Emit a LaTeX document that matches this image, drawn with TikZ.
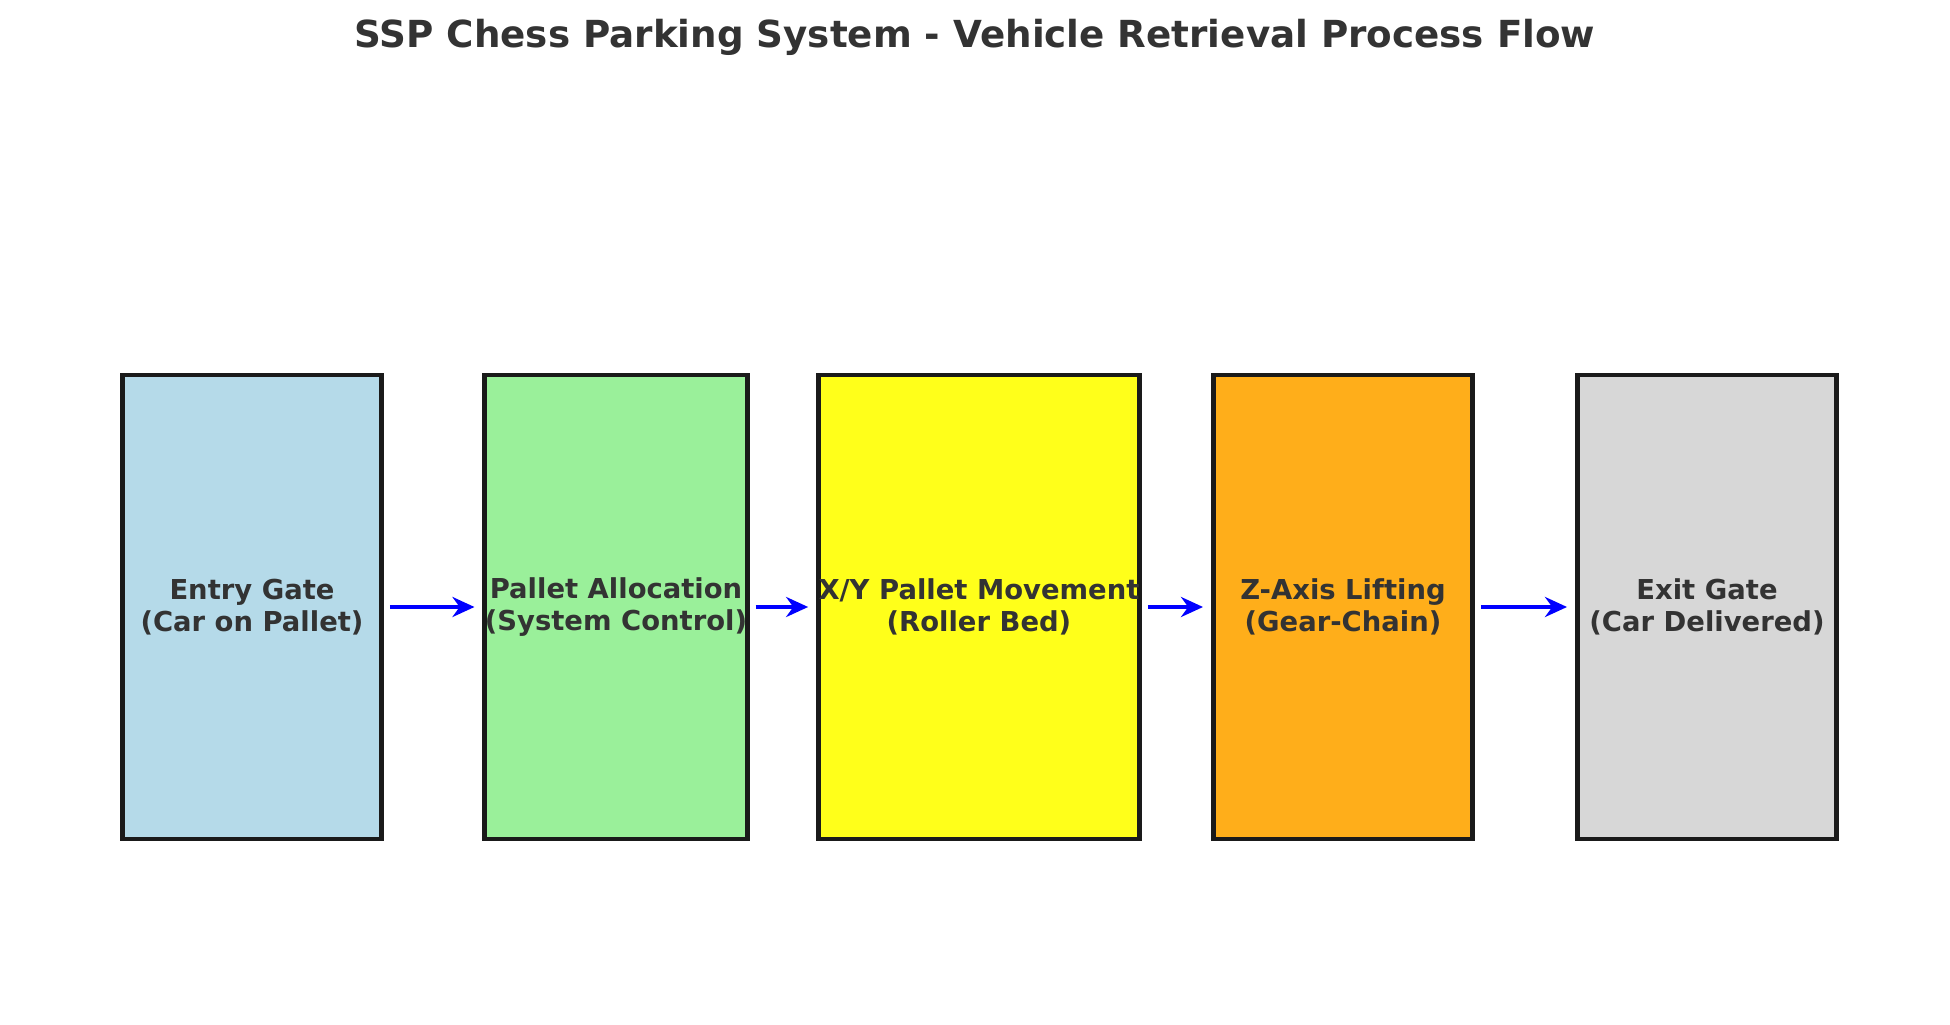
\documentclass[tikz,border=0pt]{standalone}
\usepackage{fontspec}
\setmainfont{DejaVu Sans}
\usetikzlibrary{arrows.meta}
\definecolor{txtgray}{HTML}{333333}
\definecolor{edgegray}{HTML}{1A1A1A}
\definecolor{entryblue}{HTML}{B5DAE9}
\definecolor{allocgreen}{HTML}{9AF09A}
\definecolor{moveyellow}{HTML}{FFFF1A}
\definecolor{liftorange}{HTML}{FFAE1A}
\definecolor{exitgray}{HTML}{D7D7D7}
\tikzset{
  stage/.style = {draw=edgegray, line width=1.4pt, minimum width=2.59cm, minimum height=4.64cm,
    inner sep=0pt, align=center, text=txtgray, font=\fontsize{7.8}{9.3}\selectfont\bfseries},
  flow/.style = {draw=blue, line width=1.2pt, -{Stealth[length=2.2mm,width=2mm]}, shorten <=0.6mm, shorten >=0.8mm}
}
\begin{document}
\begin{tikzpicture}
  \useasboundingbox (0,0) rectangle (19.5,10.24);

  \node [text=txtgray, font=\fontsize{10.6}{12}\selectfont\bfseries] (title) at (9.75,9.865) {SSP Chess Parking System - Vehicle Retrieval Process Flow};

  \node [stage, fill=entryblue] (entry) at (2.52,4.17) {Entry Gate\\(Car on Pallet)};
  \node [stage, fill=allocgreen] (alloc) at (6.16,4.17) {Pallet Allocation\\(System Control)};
  \node [stage, fill=moveyellow] (move) at (9.79,4.17) {X/Y Pallet Movement\\(Roller Bed)};
  \node [stage, fill=liftorange] (lift) at (13.43,4.17) {Z-Axis Lifting\\(Gear-Chain)};
  \node [stage, fill=exitgray] (exit) at (17.07,4.17) {Exit Gate\\(Car Delivered)};

  \foreach \a/\b in {entry/alloc, alloc/move, move/lift, lift/exit}
    \draw [flow] (\a.east) -- (\b.west);
\end{tikzpicture}
\end{document}
